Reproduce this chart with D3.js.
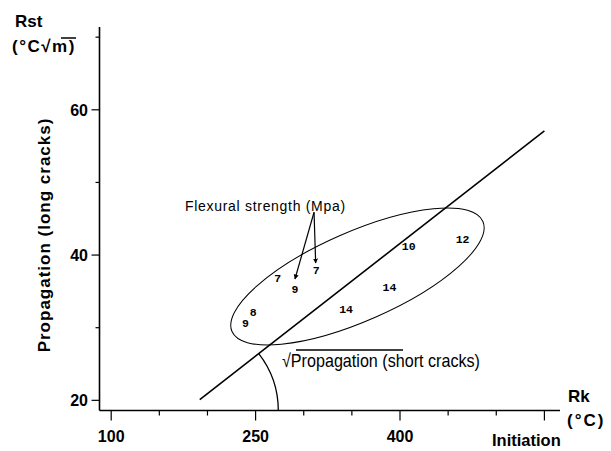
<!DOCTYPE html>
<html>
<head>
<meta charset="utf-8">
<script src="https://cdn.jsdelivr.net/npm/d3@7"></script>
<style>
  html, body { margin: 0; padding: 0; background: #fff; }
  svg { display: block; }
</style>
</head>
<body>
<div id="chart"></div>
<script>
// ---- Data ----
const xTicks = [100, 150, 200, 250, 300, 350, 400, 450, 500, 550];
const xTickLabels = [100, 250, 400];
const yTicks = [20, 30, 40, 50, 60, 70];
const yTickLabels = [20, 40, 60];
const strengthLabels = ["7", "9", "7", "10", "12", "14", "14", "8", "9"];
const rkValues  = [273, 291, 313, 409, 465, 389, 344, 247.5, 239.5];
const rstValues = [36.8, 35.3, 37.9, 41.2, 42.2, 35.6, 32.6, 32.1, 30.7];
const trendRk  = [192, 550];
const trendRst = [20.1, 57.1];
const ellipseCenter = [355.8, 37.05];
const arrowFrom = [310.7, 45.9];
const arrowTargetsRk  = [290.9, 312.4];
const arrowTargetsRst = [36.7, 38.9];

// ---- Setup ----
const W = 611, H = 451;
const svg = d3.select("#chart").append("svg").attr("width", W).attr("height", H);

const x = d3.scaleLinear().domain([87.85, 566.2]).range([99.5, 560]);
const y = d3.scaleLinear().domain([18.6, 71.4]).range([410.5, 27]);

const boldFont = "'Liberation Sans', Arial, Helvetica, sans-serif";

// marker
svg.append("defs").append("marker")
  .attr("id", "ah").attr("viewBox", "0 0 10 10")
  .attr("refX", 9).attr("refY", 5)
  .attr("markerWidth", 5).attr("markerHeight", 7)
  .attr("markerUnits", "userSpaceOnUse")
  .attr("orient", "auto")
  .append("path").attr("d", "M0,0 L10,5 L0,10 Z").attr("fill", "#000");

// ---- Axes ----
const yr = y.range(), xr = x.range();
svg.append("line").attr("x1", xr[0]).attr("x2", xr[0]).attr("y1", yr[0]).attr("y2", yr[1])
  .attr("stroke", "#000").attr("stroke-width", 1.6);
svg.append("line").attr("x1", xr[0]).attr("x2", xr[1]).attr("y1", yr[0]).attr("y2", yr[0])
  .attr("stroke", "#000").attr("stroke-width", 1.6);

// y ticks
svg.selectAll(".yt").data(yTicks).enter().append("line")
  .attr("x1", d => xr[0] - (yTickLabels.includes(d) ? 8 : 4)).attr("x2", xr[0])
  .attr("y1", d => y(d)).attr("y2", d => y(d))
  .attr("stroke", "#000").attr("stroke-width", 1.2);
svg.selectAll(".ytl").data(yTickLabels).enter().append("text")
  .attr("x", 88).attr("y", d => y(d)).attr("dy", "0.36em")
  .attr("text-anchor", "end")
  .attr("font-family", boldFont).attr("font-weight", "bold").attr("font-size", 16)
  .text(d => d);

// x ticks
svg.selectAll(".xt").data(xTicks).enter().append("line")
  .attr("x1", d => x(d)).attr("x2", d => x(d))
  .attr("y1", yr[0]).attr("y2", d => yr[0] + (xTickLabels.includes(d) || d === 550 ? 10 : 5))
  .attr("stroke", "#000").attr("stroke-width", 1.2);
svg.selectAll(".xtl").data(xTickLabels).enter().append("text")
  .attr("x", d => x(d)).attr("y", 442)
  .attr("text-anchor", "middle")
  .attr("font-family", boldFont).attr("font-weight", "bold").attr("font-size", 16)
  .text(d => d);

// ---- Axis titles ----
svg.append("text").attr("x", 15).attr("y", 27)
  .attr("font-family", boldFont).attr("font-weight", "bold").attr("font-size", 17)
  .text("Rst");
svg.append("text").attr("x", 12).attr("y", 52)
  .attr("font-family", boldFont).attr("font-weight", "bold").attr("font-size", 17)
  .attr("letter-spacing", 1.5)
  .text("(°C√m)");
svg.append("line").attr("x1", 61).attr("x2", 76).attr("y1", 38).attr("y2", 38)
  .attr("stroke", "#000").attr("stroke-width", 1.5);

svg.append("text")
  .attr("transform", "translate(50,235) rotate(-90)")
  .attr("text-anchor", "middle")
  .attr("font-family", boldFont).attr("font-weight", "bold").attr("font-size", 17)
  .attr("letter-spacing", 1)
  .text("Propagation (long cracks)");

svg.append("text").attr("x", 568).attr("y", 402)
  .attr("font-family", boldFont).attr("font-weight", "bold").attr("font-size", 17)
  .text("Rk");
svg.append("text").attr("x", 567).attr("y", 426)
  .attr("font-family", boldFont).attr("font-weight", "bold").attr("font-size", 17)
  .attr("letter-spacing", 2)
  .text("(°C)");
svg.append("text").attr("x", 492).attr("y", 446)
  .attr("font-family", boldFont).attr("font-weight", "bold").attr("font-size", 16.5)
  .text("Initiation");

// ---- Trend line ----
svg.append("line")
  .attr("x1", x(trendRk[0])).attr("y1", y(trendRst[0]))
  .attr("x2", x(trendRk[1])).attr("y2", y(trendRst[1]))
  .attr("stroke", "#000").attr("stroke-width", 1.6);

// ---- Angle arc ----
(function () {
  const x1 = x(trendRk[0]), y1 = y(trendRst[0]), x2 = x(trendRk[1]), y2 = y(trendRst[1]);
  const slope = (y2 - y1) / (x2 - x1);
  const cy = yr[0];
  const cx = x1 + (cy - y1) / slope;
  const r = 92.5;
  const ang = Math.atan2(-(y2 - y1), x2 - x1);
  const ex = cx + r * Math.cos(ang), ey = cy - r * Math.sin(ang);
  svg.append("path")
    .attr("d", `M${cx + r},${cy} A${r},${r} 0 0 0 ${ex},${ey}`)
    .attr("fill", "none").attr("stroke", "#000").attr("stroke-width", 1.3);
})();

// ---- Ellipse ----
svg.append("ellipse")
  .attr("cx", 0).attr("cy", 0).attr("rx", 137).attr("ry", 44.5)
  .attr("transform", `translate(${x(ellipseCenter[0])},${y(ellipseCenter[1])}) rotate(-23.7)`)
  .attr("fill", "none").attr("stroke", "#000").attr("stroke-width", 1);

// ---- Strength labels ----
svg.selectAll(".pt").data(strengthLabels).enter().append("text")
  .attr("x", (d, i) => x(rkValues[i])).attr("y", (d, i) => y(rstValues[i]))
  .attr("dy", "0.35em")
  .attr("text-anchor", "middle")
  .attr("font-family", "'Liberation Mono', 'DejaVu Sans Mono', monospace")
  .attr("font-weight", "bold").attr("font-size", 11.5)
  .text(d => d);

// ---- Flexural annotation ----
svg.append("text").attr("x", 185).attr("y", 211)
  .attr("font-family", boldFont).attr("font-size", 14).attr("letter-spacing", 0.7)
  .text("Flexural strength (Mpa)");
arrowTargetsRk.forEach((rk, i) => {
  svg.append("line")
    .attr("x1", x(arrowFrom[0])).attr("y1", y(arrowFrom[1]))
    .attr("x2", x(rk)).attr("y2", y(arrowTargetsRst[i]))
    .attr("stroke", "#000").attr("stroke-width", 1.2)
    .attr("marker-end", "url(#ah)");
});

// ---- Short cracks annotation ----
svg.append("text").attr("x", 282).attr("y", 367)
  .attr("font-family", boldFont).attr("font-size", 19)
  .attr("textLength", 198).attr("lengthAdjust", "spacingAndGlyphs")
  .text("√Propagation (short cracks)");
svg.append("line").attr("x1", 296).attr("x2", 403).attr("y1", 350).attr("y2", 350)
  .attr("stroke", "#000").attr("stroke-width", 1.4);
</script>
</body>
</html>
